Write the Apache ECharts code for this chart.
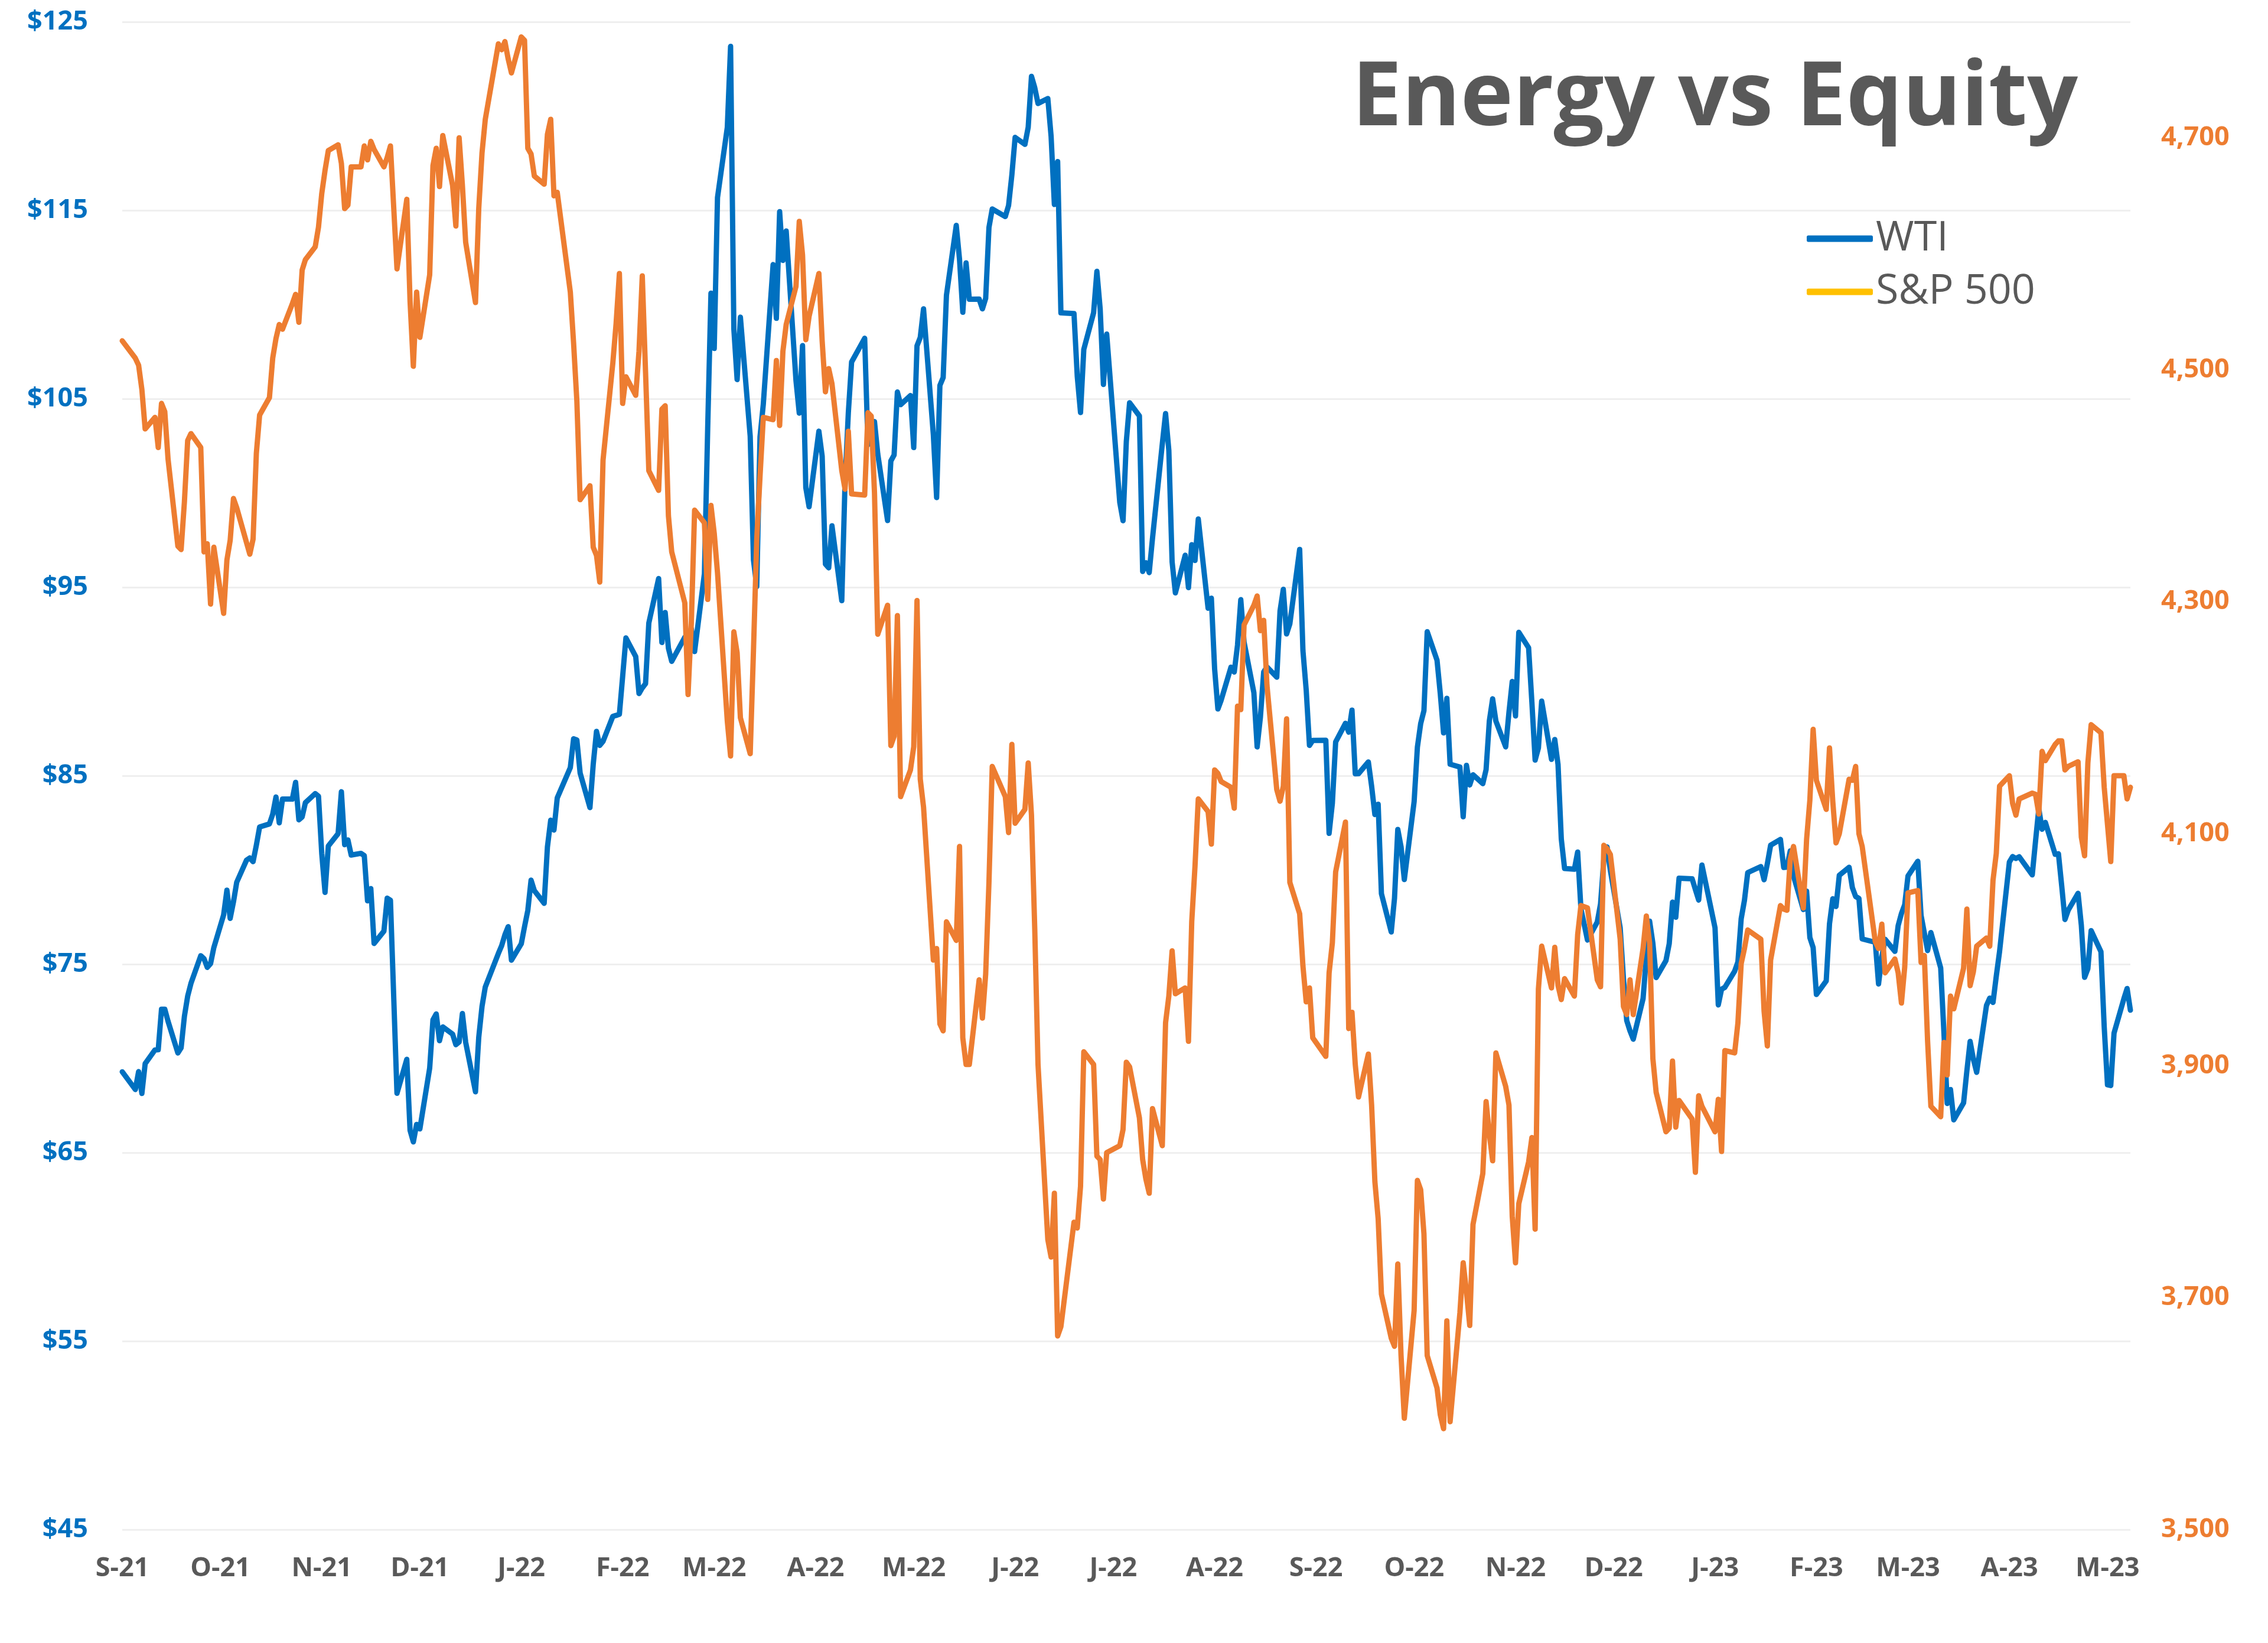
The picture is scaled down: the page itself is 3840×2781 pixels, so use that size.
<!DOCTYPE html>
<html>
<head>
<meta charset="utf-8">
<script src="https://cdn.jsdelivr.net/npm/echarts@6/dist/echarts.min.js"></script>
<style>
html,body{margin:0;padding:0;background:#ffffff;}
#chart{width:3840px;height:2781px;}
</style>
</head>
<body>
<div id="chart"></div>
<script>
// ---------------- data ----------------
const titleText = 'Energy vs Equity';
const seriesNames = ['WTI', 'S&P 500'];
const firstDay = [2021, 9, 3];
const lastDay = [2023, 5, 10];
const months = ['2021-09','2021-10','2021-11','2021-12','2022-01','2022-02','2022-03','2022-04','2022-05','2022-06','2022-07','2022-08','2022-09','2022-10','2022-11','2022-12','2023-01','2023-02','2023-03','2023-04','2023-05'];
const holidays = ['2021-09-06','2021-11-25','2021-12-24','2022-01-17','2022-02-21','2022-04-15','2022-05-30','2022-06-20','2022-07-04','2022-09-05','2022-11-24','2022-12-26','2023-01-02','2023-01-16','2023-02-20','2023-04-07'];
const monthLetters = ['J','F','M','A','M','J','J','A','S','O','N','D'];
const leftTickValues = [45,55,65,75,85,95,105,115,125];
const rightTickValues = [3500,3700,3900,4100,4300,4500,4700];

// WTI crude, daily, one array per month
const wtiByMonth = [
[69.29,68.35,69.30,68.14,69.72,70.45,70.46,72.61,72.61,71.97,70.29,70.56,72.23,73.30,73.98,75.45,75.29,74.83,75.03],
[75.88,77.62,78.93,77.43,78.30,79.35,80.52,80.64,80.44,81.31,82.28,82.44,82.96,83.87,82.50,83.76,83.76,84.65,82.66,82.81,83.57],
[84.05,83.91,80.86,78.81,81.27,81.93,84.15,81.34,81.59,80.79,80.88,80.76,78.36,79.01,76.10,76.75,78.50,78.39,68.15,69.95,66.18],
[65.57,66.50,66.26,69.49,72.05,72.36,70.94,71.67,71.29,70.73,70.87,72.38,70.86,68.23,71.12,72.76,73.79,75.57,75.98,76.56,76.99,75.21],
[76.08,76.99,77.85,79.46,78.90,78.23,81.22,82.64,82.12,83.82,85.43,86.96,86.90,85.14,83.31,85.60,87.35,86.61,86.82,88.15],
[88.20,88.26,90.27,92.31,91.32,89.36,89.66,89.88,93.10,95.46,92.07,93.66,91.76,91.07,92.35,92.10,92.81,91.59,95.72],
[103.41,110.60,107.67,115.68,119.40,123.70,108.70,106.02,109.33,103.01,96.44,95.04,102.98,104.70,112.12,109.27,114.93,112.34,113.90,105.96,104.24,107.82,100.28],
[99.27,103.28,101.96,96.23,96.03,98.26,94.29,100.60,104.25,106.95,108.21,102.56,102.75,103.79,102.07,98.54,101.70,102.02,105.36,104.69],
[105.17,102.41,107.81,108.26,109.77,103.09,99.76,105.71,106.13,110.49,114.20,112.40,109.59,112.21,110.28,110.29,109.77,110.33,114.09,115.07,114.67],
[115.26,116.87,118.87,118.50,119.41,122.11,121.51,120.67,120.93,118.93,115.31,117.59,109.56,109.52,106.19,104.27,107.62,109.57,111.76,109.78,105.76],
[108.43,99.50,98.53,102.73,104.79,104.09,95.84,96.30,95.78,97.59,102.60,104.22,102.26,96.35,94.70,96.70,94.98,97.26,96.42,98.62],
[93.89,94.42,90.66,88.54,89.01,90.76,90.50,91.93,94.34,92.09,89.41,86.53,88.11,90.50,90.77,90.23,93.74,94.89,92.52,93.06,97.01,91.64,89.55],
[86.61,86.87,86.88,81.94,83.54,86.79,87.78,87.31,88.48,85.10,85.11,85.73,84.45,82.94,83.49,78.74,76.71,78.50,82.15,81.23,79.49],
[83.63,86.52,87.76,88.45,92.64,91.13,89.35,87.27,89.11,85.61,85.46,82.82,85.55,84.51,85.05,84.58,85.32,87.91,89.08,87.90,86.53],
[88.37,90.00,88.17,92.61,91.79,88.91,85.83,86.47,88.96,85.87,86.92,85.59,81.64,80.08,80.04,80.95,77.94,76.28,77.24,78.20,80.55],
[81.22,79.98,76.93,74.25,72.01,71.46,71.02,73.17,75.39,77.28,76.11,74.29,75.19,76.09,78.29,77.49,79.56,79.53,78.96,78.40,80.26],
[76.93,72.84,73.67,73.77,74.63,75.12,77.41,78.39,79.86,80.18,79.48,80.33,81.31,81.62,80.13,80.15,81.01,79.68,77.90,78.87],
[76.41,75.88,73.39,74.11,77.14,78.47,78.06,79.72,80.14,79.06,78.59,78.49,76.34,76.16,73.95,75.39,76.32,75.68,77.05],
[77.69,78.16,79.68,80.46,77.58,76.66,75.72,76.68,74.80,71.33,67.61,68.35,66.74,67.64,69.33,70.90,69.96,69.26,72.81,73.20,72.97,74.37,75.67],
[80.42,80.71,80.61,80.70,79.74,81.53,83.26,82.16,82.52,80.83,80.86,79.16,77.37,77.87,78.76,77.07,74.30,74.76,76.78],
[75.66,71.66,68.60,68.56,71.34,73.16,73.71,72.56]
];

// S&P 500 (as plotted), daily, one array per month
const spxByMonth = [
[4525,4510,4504,4483,4449,4459,4433,4471,4464,4423,4348,4345,4386,4439,4445,4433,4343,4350,4298],
[4347,4290,4336,4353,4389,4381,4351,4341,4354,4428,4461,4476,4510,4527,4539,4535,4557,4565,4541,4586,4595],
[4606,4623,4652,4672,4689,4694,4678,4639,4642,4675,4675,4693,4681,4697,4690,4675,4683,4693,4587,4647,4559],
[4503,4567,4528,4582,4676,4691,4658,4702,4659,4624,4700,4659,4610,4558,4639,4687,4716,4781,4776,4783,4768,4756],
[4787,4784,4691,4686,4667,4660,4703,4716,4650,4653,4567,4523,4473,4388,4400,4347,4340,4317,4422,4506],
[4540,4583,4471,4494,4478,4516,4581,4498,4413,4396,4466,4469,4374,4343,4299,4220,4282,4379,4368],
[4302,4383,4359,4325,4197,4167,4274,4256,4200,4169,4258,4354,4408,4459,4457,4508,4452,4516,4539,4572,4628,4599,4526],
[4546,4583,4525,4481,4501,4488,4413,4397,4447,4393,4392,4463,4460,4394,4272,4297,4176,4184,4288,4132],
[4155,4175,4301,4147,4123,3991,4001,3936,3930,4024,4008,4089,3924,3901,3901,3974,3941,3979,4058,4158,4132],
[4101,4177,4109,4121,4161,4116,4018,3901,3750,3735,3790,3667,3675,3765,3760,3796,3912,3901,3822,3819,3785],
[3825,3831,3845,3903,3899,3855,3819,3802,3790,3863,3831,3937,3960,3999,3962,3967,3921,4024,4072,4130],
[4119,4091,4155,4152,4145,4140,4122,4210,4207,4280,4297,4305,4275,4284,4228,4138,4128,4141,4199,4058,4031,3986,3955],
[3967,3924,3908,3980,4006,4067,4110,3932,3946,3901,3873,3910,3866,3800,3768,3703,3665,3658,3729,3650,3596],
[3689,3801,3793,3755,3650,3622,3599,3587,3680,3593,3687,3730,3705,3676,3763,3807,3869,3841,3818,3911,3882],
[3866,3770,3730,3781,3817,3838,3759,3966,4003,3967,4002,3969,3957,3975,3960,4013,4038,4036,3974,3968,4090],
[4087,4082,4009,3951,3944,3974,3944,4001,4029,4006,3906,3877,3843,3846,3904,3847,3870,3854,3808,3874,3865],
[3843,3871,3826,3913,3911,3937,3988,4001,4017,4009,3947,3917,3991,4038,4035,4034,4078,4089,4036,4095],
[4129,4190,4146,4121,4174,4128,4092,4100,4147,4146,4158,4100,4089,4007,4001,4022,3980,3992,3980],
[3954,3985,4049,4051,3989,3995,3921,3865,3856,3920,3892,3960,3949,3984,4035,3969,3981,4003,4010,4003,4060,4083,4141],
[4150,4126,4116,4130,4135,4134,4117,4171,4163,4177,4180,4180,4155,4158,4162,4097,4081,4161,4194],
[4187,4140,4108,4076,4150,4150,4130,4140]
];

// ---------------- build ----------------
function pad(n){return (n<10?'0':'')+n;}
const firstStr = firstDay[0]+'-'+pad(firstDay[1])+'-'+pad(firstDay[2]);
const lastStr = lastDay[0]+'-'+pad(lastDay[1])+'-'+pad(lastDay[2]);
function tradingDays(monthStr){
  const parts = monthStr.split('-').map(Number);
  const y = parts[0], m = parts[1];
  const out = [];
  for (let d = 1; d <= 31; d++) {
    const dt = new Date(Date.UTC(y, m-1, d));
    if (dt.getUTCMonth() !== m-1) break;
    const wd = dt.getUTCDay();
    if (wd === 0 || wd === 6) continue;
    const s = y+'-'+pad(m)+'-'+pad(d);
    if (s < firstStr || s > lastStr) continue;
    if (holidays.indexOf(s) >= 0) continue;
    out.push([y, m, d]);
  }
  return out;
}
const DAY = 86400000;
function dayNumber(y, m, d){ return Math.round((Date.UTC(y, m-1, d) - Date.UTC(1970,0,1)) / DAY); }
const wtiData = [], spxData = [];
const problems = [];
months.forEach(function(ms, i){
  const days = tradingDays(ms);
  if (days.length !== wtiByMonth[i].length || days.length !== spxByMonth[i].length) {
    problems.push(ms+': days '+days.length+' wti '+wtiByMonth[i].length+' spx '+spxByMonth[i].length);
  }
  days.forEach(function(dd, k){
    const t = dayNumber(dd[0], dd[1], dd[2]);
    if (k < wtiByMonth[i].length) wtiData.push([t, wtiByMonth[i][k]]);
    if (k < spxByMonth[i].length) spxData.push([t, spxByMonth[i][k]]);
  });
});
const xMin = dayNumber(firstDay[0], firstDay[1], firstDay[2]);
const xMax = dayNumber(lastDay[0], lastDay[1], lastDay[2]);
const labelDays = months.map(function(ms){
  const p = ms.split('-').map(Number);
  return dayNumber(p[0], p[1], firstDay[2]);
});
function dayLabel(v){
  const d = new Date(Math.round(v) * DAY);
  return monthLetters[d.getUTCMonth()] + '-' + String(d.getUTCFullYear()).slice(2);
}

const chart = echarts.init(document.getElementById('chart'), null, {renderer:'canvas', width:3840, height:2781});
const labelFont = 'Open Sans';
chart.setOption({
  animation: false,
  backgroundColor: '#ffffff',
  title: {
    text: titleText,
    left: 2284,
    top: 88,
    textStyle: {fontFamily: labelFont, fontWeight: 'bold', fontSize: 151, lineHeight: 151, color: '#595959'}
  },
  legend: {
    orient: 'vertical',
    left: 3054,
    top: 364,
    itemWidth: 112,
    itemHeight: 11,
    itemGap: 20,
    icon: 'roundRect',
    textStyle: {fontFamily: labelFont, fontSize: 70, lineHeight: 70, color: '#595959'},
    data: [
      {name: seriesNames[0], itemStyle: {color: '#0070C0', borderWidth: 0}},
      {name: seriesNames[1], itemStyle: {color: '#FFC000', borderWidth: 0}}
    ]
  },
  grid: {left: 207, right: 233, top: 37, bottom: 192, containLabel: false},
  xAxis: {
    type: 'value',
    min: xMin,
    max: xMax,
    scale: true,
    axisLine: {show: false},
    axisTick: {show: false, customValues: labelDays},
    splitLine: {show: false},
    axisLabel: {
      customValues: labelDays,
      showMinLabel: true,
      showMaxLabel: true,
      margin: 44,
      fontFamily: labelFont,
      fontWeight: 'bold',
      fontSize: 45,
      color: '#595959',
      formatter: dayLabel
    }
  },
  yAxis: [
    {
      type: 'value',
      position: 'left',
      min: leftTickValues[0],
      max: leftTickValues[leftTickValues.length-1],
      interval: 5,
      axisLine: {show: false},
      axisTick: {show: false},
      splitLine: {show: true, lineStyle: {color: ['#EFEFEF', 'rgba(0,0,0,0)'], width: 3}},
      axisLabel: {
        margin: 58,
        fontFamily: labelFont,
        fontWeight: 'bold',
        fontSize: 45,
        color: '#0070C0',
        formatter: function(v){ return leftTickValues.indexOf(v) >= 0 ? '$' + v : ''; }
      }
    },
    {
      type: 'value',
      position: 'right',
      min: 3500,
      max: 4800,
      interval: 100,
      axisLine: {show: false},
      axisTick: {show: false},
      splitLine: {show: false},
      axisLabel: {
        margin: 52,
        showMaxLabel: false,
        fontFamily: labelFont,
        fontWeight: 'bold',
        fontSize: 45,
        color: '#ED7D31',
        formatter: function(v){ return rightTickValues.indexOf(v) >= 0 ? v.toLocaleString('en-US') : ''; }
      }
    }
  ],
  series: [
    {
      name: seriesNames[0], type: 'line', yAxisIndex: 0, data: wtiData,
      symbol: 'none', showSymbol: false,
      lineStyle: {color: '#0070C0', width: 9, join: 'round', cap: 'round'},
      itemStyle: {color: '#0070C0'},
      emphasis: {disabled: true}
    },
    {
      name: seriesNames[1], type: 'line', yAxisIndex: 1, data: spxData,
      symbol: 'none', showSymbol: false,
      lineStyle: {color: '#ED7D31', width: 9, join: 'round', cap: 'round'},
      itemStyle: {color: '#ED7D31'},
      emphasis: {disabled: true}
    }
  ]
});
if (problems.length) { setTimeout(function(){ throw new Error('Length mismatch: ' + problems.join('; ')); }, 0); }
</script>
</body>
</html>
